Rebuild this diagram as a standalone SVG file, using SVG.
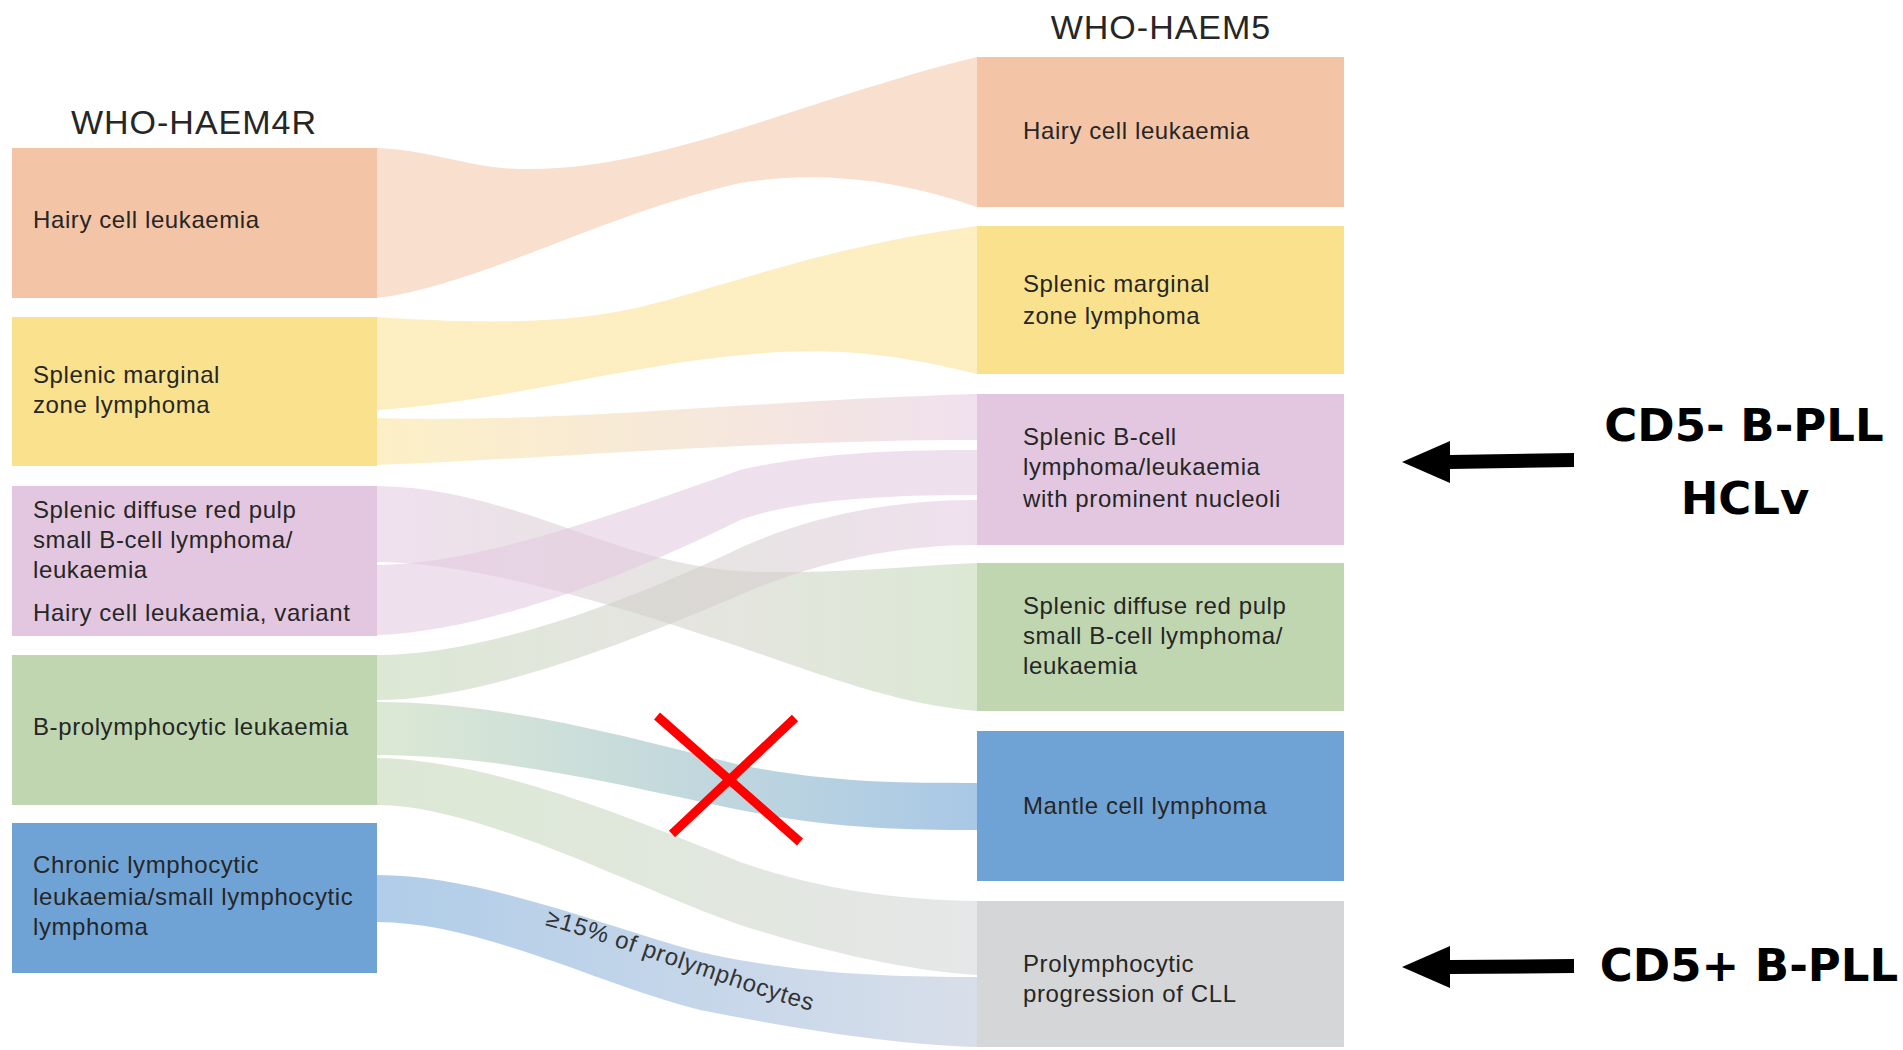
<svg xmlns="http://www.w3.org/2000/svg" width="1903" height="1050" viewBox="0 0 1903 1050">
<style>
.lbl{font-family:"Liberation Sans",Arial,sans-serif;font-size:24px;fill:#262626;letter-spacing:0.6px}
.title{font-family:"Liberation Sans",Arial,sans-serif;font-size:34px;fill:#262626;letter-spacing:1px;text-anchor:middle}
.note{font-family:"DejaVu Sans",Verdana,sans-serif;font-weight:bold;font-size:45px;fill:#000;text-anchor:middle}
.flowlbl{font-family:"Liberation Sans",Arial,sans-serif;font-size:24px;fill:#333;letter-spacing:0.8px}
.cross{stroke:#ff0000;stroke-width:9;fill:none}
.arrow{fill:#000}
.peach{fill:#F3C5A6}.yellow{fill:#FAE18E}.pink{fill:#E3C7E0}.green{fill:#BFD6B1}.blue{fill:#6FA3D6}.gray{fill:#D5D6D8}
</style>
<defs>
<linearGradient id="gA" gradientUnits="userSpaceOnUse" x1="377" y1="0" x2="977" y2="0"><stop offset="0" stop-color="#F3C5A6" stop-opacity="0.55"/><stop offset="1" stop-color="#F3C5A6" stop-opacity="0.55"/></linearGradient>
<linearGradient id="gB" gradientUnits="userSpaceOnUse" x1="377" y1="0" x2="977" y2="0"><stop offset="0" stop-color="#FAE18E" stop-opacity="0.55"/><stop offset="1" stop-color="#FAE18E" stop-opacity="0.55"/></linearGradient>
<linearGradient id="gC" gradientUnits="userSpaceOnUse" x1="377" y1="0" x2="977" y2="0"><stop offset="0" stop-color="#FAE18E" stop-opacity="0.5"/><stop offset="1" stop-color="#E3C7E0" stop-opacity="0.55"/></linearGradient>
<linearGradient id="gD" gradientUnits="userSpaceOnUse" x1="377" y1="0" x2="977" y2="0"><stop offset="0" stop-color="#E3C7E0" stop-opacity="0.55"/><stop offset="1" stop-color="#BFD6B1" stop-opacity="0.55"/></linearGradient>
<linearGradient id="gE" gradientUnits="userSpaceOnUse" x1="377" y1="0" x2="977" y2="0"><stop offset="0" stop-color="#E3C7E0" stop-opacity="0.55"/><stop offset="1" stop-color="#E3C7E0" stop-opacity="0.55"/></linearGradient>
<linearGradient id="gF" gradientUnits="userSpaceOnUse" x1="377" y1="0" x2="977" y2="0"><stop offset="0" stop-color="#BFD6B1" stop-opacity="0.55"/><stop offset="1" stop-color="#E3C7E0" stop-opacity="0.55"/></linearGradient>
<linearGradient id="gG" gradientUnits="userSpaceOnUse" x1="377" y1="0" x2="977" y2="0"><stop offset="0" stop-color="#BFD6B1" stop-opacity="0.55"/><stop offset="1" stop-color="#6FA3D6" stop-opacity="0.6"/></linearGradient>
<linearGradient id="gH" gradientUnits="userSpaceOnUse" x1="377" y1="0" x2="977" y2="0"><stop offset="0" stop-color="#BFD6B1" stop-opacity="0.55"/><stop offset="1" stop-color="#D5D6D8" stop-opacity="0.6"/></linearGradient>
<linearGradient id="gI" gradientUnits="userSpaceOnUse" x1="377" y1="0" x2="977" y2="0"><stop offset="0" stop-color="#6FA3D6" stop-opacity="0.55"/><stop offset="1" stop-color="#B8C4D8" stop-opacity="0.55"/></linearGradient>
<path id="lblpath" d="M545,925 C620,945 720,985 815,1012"/>
</defs>
<rect width="1903" height="1050" fill="#fff"/>

<g id="connectors">
<path fill="url(#gA)" d="M377,148 C430,150 470,168 520,169 C660,172 800,100 977,57 L977,207 C900,180 820,170 740,183 C600,215 480,285 377,298 Z"/>
<path fill="url(#gB)" d="M377,317 C450,322 540,325 610,313 C700,298 800,250 977,226 L977,374 C920,360 860,348 780,352 C640,360 520,400 377,410 Z"/>
<path fill="url(#gC)" d="M377,418 C560,424 760,400 977,394 L977,440 C760,440 560,458 377,465 Z"/>
<path fill="url(#gD)" d="M377,486 C520,488 620,570 760,572 C860,573 920,565 977,563 L977,711 C900,705 830,678 740,647 C600,600 470,562 377,562 Z"/>
<path fill="url(#gE)" d="M377,565 C470,565 600,520 740,470 C820,452 900,450 977,450 L977,495 C900,495 800,498 740,520 C620,580 480,632 377,635 Z"/>
<path fill="url(#gF)" d="M377,655 C470,655 600,615 740,548 C820,512 900,500 977,500 L977,545 C900,545 820,560 740,595 C600,655 470,700 377,700 Z"/>
<path fill="url(#gG)" d="M377,702 C500,702 620,735 740,765 C830,783 900,783 977,783 L977,830 C900,830 830,828 740,810 C620,785 500,755 377,755 Z"/>
<path fill="url(#gH)" d="M377,758 C480,760 600,805 740,862 C820,890 900,900 977,901 L977,975 C900,970 820,950 740,925 C640,890 480,805 377,805 Z"/>
<path fill="url(#gI)" d="M377,875 C480,875 600,925 700,952 C800,975 900,977 977,977 L977,1047 C900,1045 800,1030 700,1010 C600,985 480,922 377,922 Z"/>
<text class="flowlbl"><textPath href="#lblpath">≥15% of prolymphocytes</textPath></text>
</g>

<text class="title" x="194" y="134">WHO-HAEM4R</text>
<text class="title" x="1161" y="39">WHO-HAEM5</text>

<g id="L-hcl"><rect class="peach" x="12" y="148" width="365" height="150"/><text class="lbl" x="33" y="228">Hairy cell leukaemia</text></g>
<g id="L-smzl"><rect class="yellow" x="12" y="317" width="365" height="149"/><text class="lbl" x="33" y="383">Splenic marginal</text><text class="lbl" x="33" y="413">zone lymphoma</text></g>
<g id="L-sdrpl"><rect class="pink" x="12" y="486" width="365" height="150"/><text class="lbl" x="33" y="518">Splenic diffuse red pulp</text><text class="lbl" x="33" y="548">small B-cell lymphoma/</text><text class="lbl" x="33" y="578">leukaemia</text><text class="lbl" x="33" y="621">Hairy cell leukaemia, variant</text></g>
<g id="L-bpll"><rect class="green" x="12" y="655" width="365" height="150"/><text class="lbl" x="33" y="735">B-prolymphocytic leukaemia</text></g>
<g id="L-cll"><rect class="blue" x="12" y="823" width="365" height="150"/><text class="lbl" x="33" y="873">Chronic lymphocytic</text><text class="lbl" x="33" y="905">leukaemia/small lymphocytic</text><text class="lbl" x="33" y="935">lymphoma</text></g>

<g id="R-hcl"><rect class="peach" x="977" y="57" width="367" height="150"/><text class="lbl" x="1023" y="139">Hairy cell leukaemia</text></g>
<g id="R-smzl"><rect class="yellow" x="977" y="226" width="367" height="148"/><text class="lbl" x="1023" y="292">Splenic marginal</text><text class="lbl" x="1023" y="324">zone lymphoma</text></g>
<g id="R-sblpn"><rect class="pink" x="977" y="394" width="367" height="151"/><text class="lbl" x="1023" y="445">Splenic B-cell</text><text class="lbl" x="1023" y="475">lymphoma/leukaemia</text><text class="lbl" x="1023" y="507">with prominent nucleoli</text></g>
<g id="R-sdrpl"><rect class="green" x="977" y="563" width="367" height="148"/><text class="lbl" x="1023" y="614">Splenic diffuse red pulp</text><text class="lbl" x="1023" y="644">small B-cell lymphoma/</text><text class="lbl" x="1023" y="674">leukaemia</text></g>
<g id="R-mcl"><rect class="blue" x="977" y="731" width="367" height="150"/><text class="lbl" x="1023" y="814">Mantle cell lymphoma</text></g>
<g id="R-prog"><rect class="gray" x="977" y="901" width="367" height="146"/><text class="lbl" x="1023" y="972">Prolymphocytic</text><text class="lbl" x="1023" y="1002">progression of CLL</text></g>

<g id="cross">
<line class="cross" x1="657" y1="716" x2="800" y2="842"/>
<line class="cross" x1="672" y1="834" x2="795" y2="718"/>
</g>

<g id="note-cd5neg">
<polygon class="arrow" points="1402,462 1450,441 1450,455 1574,453 1574,467 1450,469 1450,483"/>
<text class="note" x="1744" y="441">CD5- B-PLL</text>
<text class="note" x="1745" y="514">HCLv</text>
</g>
<g id="note-cd5pos">
<polygon class="arrow" points="1402,967 1450,946 1450,960 1574,959 1574,973 1450,974 1450,988"/>
<text class="note" x="1749" y="981">CD5+ B-PLL</text>
</g>
</svg>
